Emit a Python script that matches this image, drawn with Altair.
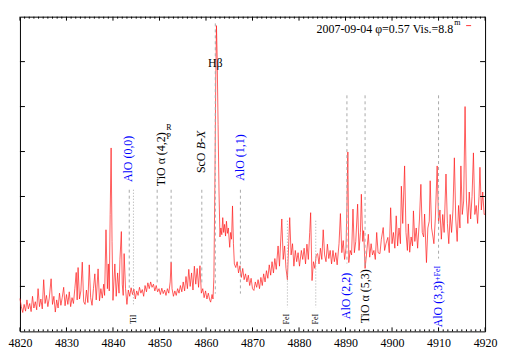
import altair as alt
import pandas as pd

W, H = 467, 316
FONT = "Liberation Serif"

# ---------------- spectrum (wavelength in Angstrom, relative flux) ----------------
WAVE_A = [4820.0, 4820.3, 4820.6, 4820.9, 4821.2, 4821.5, 4821.8, 4822.1, 4822.4, 4822.7,
          4823.0, 4823.3, 4823.6, 4823.9, 4824.2, 4824.5, 4824.8, 4825.1, 4825.4, 4825.7,
          4826.0, 4826.3, 4826.7, 4827.0, 4827.3, 4827.6, 4827.9, 4828.2, 4828.5, 4828.8,
          4829.1, 4829.4, 4829.7, 4830.0]
FLUX_A = [0.73, 0.55, 0.42, 0.60, 0.45, 0.70, 0.50, 0.62, 0.44, 0.78,
          0.52, 0.66, 0.48, 0.95, 0.55, 0.72, 0.50, 1.15, 0.62, 0.80,
          0.55, 0.74, 1.17, 0.60, 0.78, 0.43, 0.70, 0.52, 0.85, 0.58,
          0.76, 0.98, 0.57, 0.82]

WAVE_B = [4830.3, 4830.6, 4830.9, 4831.2, 4831.5, 4831.8, 4832.1, 4832.3, 4832.5, 4832.8,
          4833.1, 4833.4, 4833.7, 4834.0, 4834.3, 4834.6, 4834.9, 4835.2, 4835.5, 4835.8,
          4836.1, 4836.4, 4836.8, 4837.1, 4837.4, 4837.7, 4838.0, 4838.2, 4838.5, 4838.8,
          4839.0, 4839.2, 4839.4, 4839.6, 4839.8, 4840.0, 4840.2, 4840.4, 4840.7, 4841.0,
          4841.3, 4841.5, 4841.8, 4842.0, 4842.2, 4842.4, 4842.7, 4843.0]
FLUX_B = [0.60, 0.88, 0.55, 0.75, 0.62, 0.95, 1.31, 0.70, 1.42, 0.72,
          0.90, 1.54, 0.66, 0.60, 0.92, 0.64, 1.48, 0.75, 0.58, 0.95,
          1.28, 0.70, 1.39, 0.68, 0.95, 0.74, 1.05, 0.80, 2.26, 0.95,
          1.50, 0.90, 2.60, 4.08, 2.00, 0.69, 1.10, 1.50, 0.78, 1.30,
          0.85, 1.60, 2.22, 1.05, 0.80, 1.73, 0.95, 0.60]

WAVE_C = [4843.3, 4843.6, 4843.9, 4844.2, 4844.5, 4844.8, 4845.1, 4845.4, 4845.7, 4846.0,
          4846.3, 4846.6, 4846.9, 4847.2, 4847.5, 4847.8, 4848.1, 4848.4, 4848.7, 4849.0,
          4849.3, 4849.6, 4849.9, 4850.2, 4850.5, 4850.8, 4851.1, 4851.4, 4851.7, 4852.0,
          4852.3, 4852.5, 4852.7, 4853.0, 4853.3, 4853.6, 4853.9, 4854.2, 4854.5, 4854.8,
          4855.1, 4855.4, 4855.7, 4856.0, 4856.3, 4856.6, 4856.9, 4857.2, 4857.5, 4857.8,
          4858.1, 4858.4, 4858.7, 4859.0, 4859.3, 4859.6, 4859.9, 4860.2, 4860.5, 4860.8,
          4861.0, 4861.3, 4861.5]
FLUX_C = [0.92, 0.78, 0.97, 0.82, 0.94, 0.72, 0.90, 0.80, 0.98, 0.85,
          0.93, 0.78, 1.02, 0.88, 1.08, 0.95, 1.10, 0.98, 1.05, 0.90,
          1.02, 0.88, 0.95, 0.82, 0.96, 0.84, 0.92, 0.80, 0.95, 0.85,
          1.10, 1.54, 0.95, 0.78, 0.90, 0.80, 0.95, 0.85, 1.02, 0.88,
          1.10, 0.90, 1.22, 0.95, 1.38, 1.00, 1.30, 0.92, 1.45, 1.05,
          1.40, 0.98, 1.46, 0.85, 0.95, 0.75, 0.90, 0.72, 0.85, 0.70,
          0.65, 0.82, 0.72]

WAVE_HB = [4861.7, 4861.9, 4862.1, 4862.25, 4862.4, 4862.6, 4862.8, 4863.0]
FLUX_HB = [1.20, 3.20, 5.60, 6.80, 6.10, 4.60, 3.10, 2.10]

WAVE_D = [4863.2, 4863.4, 4863.6, 4863.8, 4864.0, 4864.2, 4864.4, 4864.6, 4864.8, 4865.1,
          4865.3, 4865.5, 4865.7, 4865.9, 4866.1, 4866.4, 4866.7, 4867.0, 4867.3, 4867.6,
          4867.9, 4868.2, 4868.5, 4868.8, 4869.1, 4869.4, 4869.7, 4870.0, 4870.3, 4870.6,
          4870.9, 4871.2, 4871.5, 4871.8, 4872.1, 4872.4, 4872.7, 4873.0, 4873.3, 4873.6,
          4873.9, 4874.2, 4874.5, 4874.8, 4875.1, 4875.5]
FLUX_D = [2.30, 2.15, 2.53, 2.20, 2.38, 2.12, 2.45, 2.18, 2.30, 1.87,
          2.20, 2.05, 2.79, 1.95, 1.50, 1.42, 1.55, 1.30, 1.46, 1.20,
          1.40, 1.15, 1.28, 1.10, 1.25, 1.02, 1.18, 0.95, 0.91, 1.10,
          0.98, 1.15, 0.95, 1.20, 1.02, 1.28, 1.10, 1.35, 1.18, 1.48,
          1.25, 1.55, 1.30, 1.62, 1.38, 1.90]

WAVE_E = [4875.8, 4876.1, 4876.3, 4876.6, 4876.9, 4877.2, 4877.5, 4877.8, 4878.0, 4878.3,
          4878.6, 4878.9, 4879.2, 4879.5, 4879.8, 4880.1, 4880.5, 4880.8, 4881.1, 4881.4,
          4881.7, 4882.0, 4882.3, 4882.5, 4882.8, 4883.1, 4883.4, 4883.7, 4884.0, 4884.3,
          4884.6, 4884.9, 4885.2, 4885.5, 4885.8, 4886.1, 4886.4, 4886.7, 4887.0, 4887.3,
          4887.6, 4887.9, 4888.2, 4888.6, 4888.9, 4889.2, 4889.5, 4889.8, 4890.1, 4890.3,
          4890.5, 4890.7, 4891.0, 4891.3, 4891.6, 4891.9, 4892.2, 4892.6, 4892.9, 4893.2,
          4893.4, 4893.7, 4893.9, 4894.2]
FLUX_E = [1.45, 2.10, 2.50, 1.60, 1.90, 1.40, 1.15, 2.00, 2.53, 1.70,
          1.95, 1.45, 1.80, 1.55, 1.75, 1.45, 1.80, 1.60, 1.85, 1.50,
          1.94, 1.60, 2.20, 2.64, 1.13, 1.55, 1.40, 1.70, 1.73, 1.50,
          1.85, 1.60, 2.26, 1.70, 1.55, 1.94, 1.62, 1.80, 1.50, 1.80,
          1.55, 1.75, 1.48, 1.95, 2.62, 1.75, 2.02, 1.60, 1.85, 2.80,
          3.99, 1.53, 1.80, 1.70, 2.72, 1.75, 2.00, 2.83, 1.80, 2.20,
          3.05, 2.00, 2.24, 1.40]

WAVE_F = [4894.5, 4894.9, 4895.2, 4895.5, 4895.8, 4896.1, 4896.4, 4896.7, 4897.0, 4897.4,
          4897.7, 4898.1, 4898.4, 4898.7, 4899.1, 4899.4, 4899.7, 4900.0, 4900.3, 4900.6,
          4900.9, 4901.2, 4901.5, 4901.8, 4902.0, 4902.3, 4902.7, 4903.0, 4903.3, 4903.5,
          4903.8, 4904.1, 4904.4, 4904.6, 4904.9, 4905.2, 4905.5, 4905.9, 4906.2, 4906.5,
          4906.8, 4907.0, 4907.4, 4907.7, 4908.0, 4908.2, 4908.5, 4908.8, 4909.0, 4909.3,
          4909.7, 4910.0, 4910.3, 4910.6, 4910.9, 4911.2, 4911.6, 4911.9, 4912.2, 4912.5,
          4912.8, 4913.1, 4913.4, 4913.7, 4914.0, 4914.3, 4914.6, 4914.8, 4915.1, 4915.4,
          4915.7, 4916.0, 4916.3, 4916.6, 4916.9, 4917.2, 4917.5, 4917.8, 4918.1, 4918.4,
          4918.7, 4918.9, 4919.2, 4919.5, 4919.8, 4920.0]
FLUX_F = [1.70, 2.16, 1.65, 1.95, 1.70, 1.80, 1.60, 2.20, 1.75, 1.73,
          2.05, 2.31, 1.80, 1.95, 2.09, 1.75, 2.75, 1.95, 2.20, 1.85,
          2.57, 1.90, 2.30, 1.95, 3.23, 2.40, 3.68, 2.20, 1.80, 2.39,
          1.76, 2.10, 1.90, 2.68, 2.00, 2.30, 1.85, 2.50, 3.27, 2.20,
          2.10, 2.61, 1.53, 2.30, 2.45, 3.35, 2.30, 2.10, 1.95, 2.50,
          3.68, 2.40, 2.70, 2.05, 2.60, 2.20, 3.50, 2.40, 1.95, 2.60,
          2.20, 2.70, 3.86, 2.50, 2.00, 2.80, 2.30, 3.68, 2.60, 2.90,
          5.00, 2.90, 2.40, 3.10, 2.50, 3.00, 3.97, 2.60, 2.80, 2.40,
          3.00, 3.65, 2.70, 3.10, 2.60, 2.61]

WAVE = WAVE_A + WAVE_B + WAVE_C + WAVE_HB + WAVE_D + WAVE_E + WAVE_F
FLUX = FLUX_A + FLUX_B + FLUX_C + FLUX_HB + FLUX_D + FLUX_E + FLUX_F

# ---------------- axes ----------------
XTICKS = [4820, 4830, 4840, 4850, 4860, 4870, 4880, 4890, 4900, 4910, 4920]
XMINOR = [v for v in range(4821, 4920) if v % 10]
YTICKS = [1, 2, 3, 4, 5, 6]

# ---------------- line identifications ----------------
LINE_WAVE = [4843.5, 4844.4, 4849.5, 4852.5, 4859.1, 4862.0, 4867.4, 4877.5, 4883.6, 4890.3, 4894.2, 4910.0]
LINE_TOP = [3.15, 3.15, 3.15, 3.15, 3.15, 6.85, 3.15, 2.46, 2.46, 5.25, 5.25, 5.25]
LINE_BOTTOM = [0.97, 0.58, 1.09, 1.53, 1.06, 0.84, 0.84, 0.53, 0.53, 1.51, 1.40, 1.62]
LINE_STYLE = ["dash", "dot", "dash", "dash", "dash", "dash", "dash", "dot", "dot", "dash", "dash", "dash"]

BIG_TEXT = ["AlO (0,0)", "TiO α (4,2)", "ScO ", "AlO (1,1)", "AlO (2,2)", "TiO α (5,3)", "AlO (3,3)"]
BIG_WAVE = [4843.3, 4850.3, 4859.0, 4867.4, 4890.2, 4894.1, 4909.9]
BIG_Y = [3.32, 3.23, 3.52, 3.35, 0.27, 0.18, 0.09]
BIG_COLOR = ["#0000ff", "#000000", "#000000", "#0000ff", "#0000ff", "#000000", "#0000ff"]

ITALIC_TEXT = ["B-X"]
ITALIC_WAVE = [4859.0]
ITALIC_Y = [4.05]

SMALL_TEXT = ["TiI", "FeI", "FeI"]
SMALL_WAVE = [4844.5, 4877.5, 4883.6]
SMALL_Y = [0.27, 0.27, 0.27]

SUFFIX_TEXT = ["+FeI"]
SUFFIX_WAVE = [4909.9]
SUFFIX_Y = [1.12]

BRANCH_TEXT = ["R", "P"]
BRANCH_WAVE = [4852.0, 4852.0]
BRANCH_Y = [4.52, 4.32]

HB_TEXT = ["Hβ"]
HB_WAVE = [4862.0]
HB_Y = [5.96]

LEGEND_TEXT = "2007-09-04 φ=0.57 Vis.=8.8"
LEGEND_SUP = "m"

# ---------------- chart ----------------
XS = alt.Scale(domain=[4820, 4920], nice=False, zero=False)
YS = alt.Scale(domain=[0, 7], nice=False, zero=False)


def X(field):
    return alt.X(field, type="quantitative", scale=XS, axis=None)


def Y(field):
    return alt.Y(field, type="quantitative", scale=YS, axis=None)


spec = pd.DataFrame({"wave": WAVE, "flux": FLUX})
lines = pd.DataFrame({"wave": LINE_WAVE, "top": LINE_TOP, "bottom": LINE_BOTTOM, "style": LINE_STYLE})

dashed = alt.Chart(lines[lines["style"] == "dash"]).mark_rule(
    color="#a8a8a8", strokeWidth=1, strokeDash=[3, 3]
).encode(x=X("wave"), y=Y("top"), y2="bottom")

dotted = alt.Chart(lines[lines["style"] == "dot"]).mark_rule(
    color="#a8a8a8", strokeWidth=1, strokeDash=[1, 2]
).encode(x=X("wave"), y=Y("top"), y2="bottom")

spectrum = alt.Chart(spec).mark_line(color="#ff1a1a", strokeWidth=0.7).encode(
    x=alt.X("wave:Q", scale=XS, title=None,
            axis=alt.Axis(values=XTICKS, format="d", ticks=False, domain=False, grid=False,
                          orient="bottom", labelFlush=False, labelOverlap=False,
                          labelFont=FONT, labelFontSize=12,
                          labelColor="black", labelPadding=6)),
    y=Y("flux"),
)

big = alt.Chart(pd.DataFrame({"wave": BIG_WAVE, "y": BIG_Y, "text": BIG_TEXT, "color": BIG_COLOR})).mark_text(
    angle=270, align="left", baseline="middle", font=FONT, fontSize=12
).encode(x=X("wave"), y=Y("y"), text="text:N", color=alt.Color("color:N", scale=None))

italic = alt.Chart(pd.DataFrame({"wave": ITALIC_WAVE, "y": ITALIC_Y, "text": ITALIC_TEXT})).mark_text(
    angle=270, align="left", baseline="middle", font=FONT, fontSize=12, fontStyle="italic", color="black"
).encode(x=X("wave"), y=Y("y"), text="text:N")

small = alt.Chart(pd.DataFrame({"wave": SMALL_WAVE, "y": SMALL_Y, "text": SMALL_TEXT})).mark_text(
    angle=270, align="center", baseline="middle", font=FONT, fontSize=8, color="black"
).encode(x=X("wave"), y=Y("y"), text="text:N")

suffix = alt.Chart(pd.DataFrame({"wave": SUFFIX_WAVE, "y": SUFFIX_Y, "text": SUFFIX_TEXT})).mark_text(
    angle=270, align="left", baseline="middle", font=FONT, fontSize=8, color="#0000ff"
).encode(x=X("wave"), y=Y("y"), text="text:N")

branch = alt.Chart(pd.DataFrame({"wave": BRANCH_WAVE, "y": BRANCH_Y, "text": BRANCH_TEXT})).mark_text(
    align="center", baseline="middle", font=FONT, fontSize=8, color="black"
).encode(x=X("wave"), y=Y("y"), text="text:N")

hb = alt.Chart(pd.DataFrame({"wave": HB_WAVE, "y": HB_Y, "text": HB_TEXT})).mark_text(
    align="center", baseline="middle", font=FONT, fontSize=12, color="black"
).encode(x=X("wave"), y=Y("y"), text="text:N")

xmaj = pd.DataFrame({"t": XTICKS})
xmin = pd.DataFrame({"t": XMINOR})
ytk = pd.DataFrame({"t": YTICKS})
tick_style = dict(color="black", strokeWidth=1)

ticks = [
    alt.Chart(xmaj).mark_rule(**tick_style).encode(x=X("t"), y=alt.value(H), y2=alt.value(H - 4)),
    alt.Chart(xmaj).mark_rule(**tick_style).encode(x=X("t"), y=alt.value(0), y2=alt.value(4)),
    alt.Chart(xmin).mark_rule(**tick_style).encode(x=X("t"), y=alt.value(H), y2=alt.value(H - 2)),
    alt.Chart(xmin).mark_rule(**tick_style).encode(x=X("t"), y=alt.value(0), y2=alt.value(2)),
    alt.Chart(ytk).mark_rule(**tick_style).encode(y=Y("t"), x=alt.value(0), x2=alt.value(5)),
    alt.Chart(ytk).mark_rule(**tick_style).encode(y=Y("t"), x=alt.value(W), x2=alt.value(W - 5)),
]

leg_df = pd.DataFrame({"text": [LEGEND_TEXT], "sup": [LEGEND_SUP]})
legend_text = alt.Chart(leg_df).mark_text(
    align="right", baseline="alphabetic", font=FONT, fontSize=12, color="black"
).encode(x=alt.value(435), y=alt.value(16), text="text:N")
legend_sup = alt.Chart(leg_df).mark_text(
    align="left", baseline="alphabetic", font=FONT, fontSize=8, color="black"
).encode(x=alt.value(436), y=alt.value(8.5), text="sup:N")
legend_key = alt.Chart(leg_df).mark_rule(color="#ff0000", strokeWidth=0.8).encode(
    x=alt.value(448), x2=alt.value(453), y=alt.value(9)
)

chart = alt.layer(
    spectrum, dashed, dotted, big, italic, small, suffix, branch, hb,
    *ticks, legend_text, legend_sup, legend_key
).resolve_axis(
    x="independent", y="independent"
).properties(
    width=W, height=H,
    padding={"left": 0, "top": 7, "right": 4, "bottom": 0},
).configure_view(stroke="black", strokeWidth=1)

chart.save("out.html", embed_options={"renderer": "svg", "actions": False})
